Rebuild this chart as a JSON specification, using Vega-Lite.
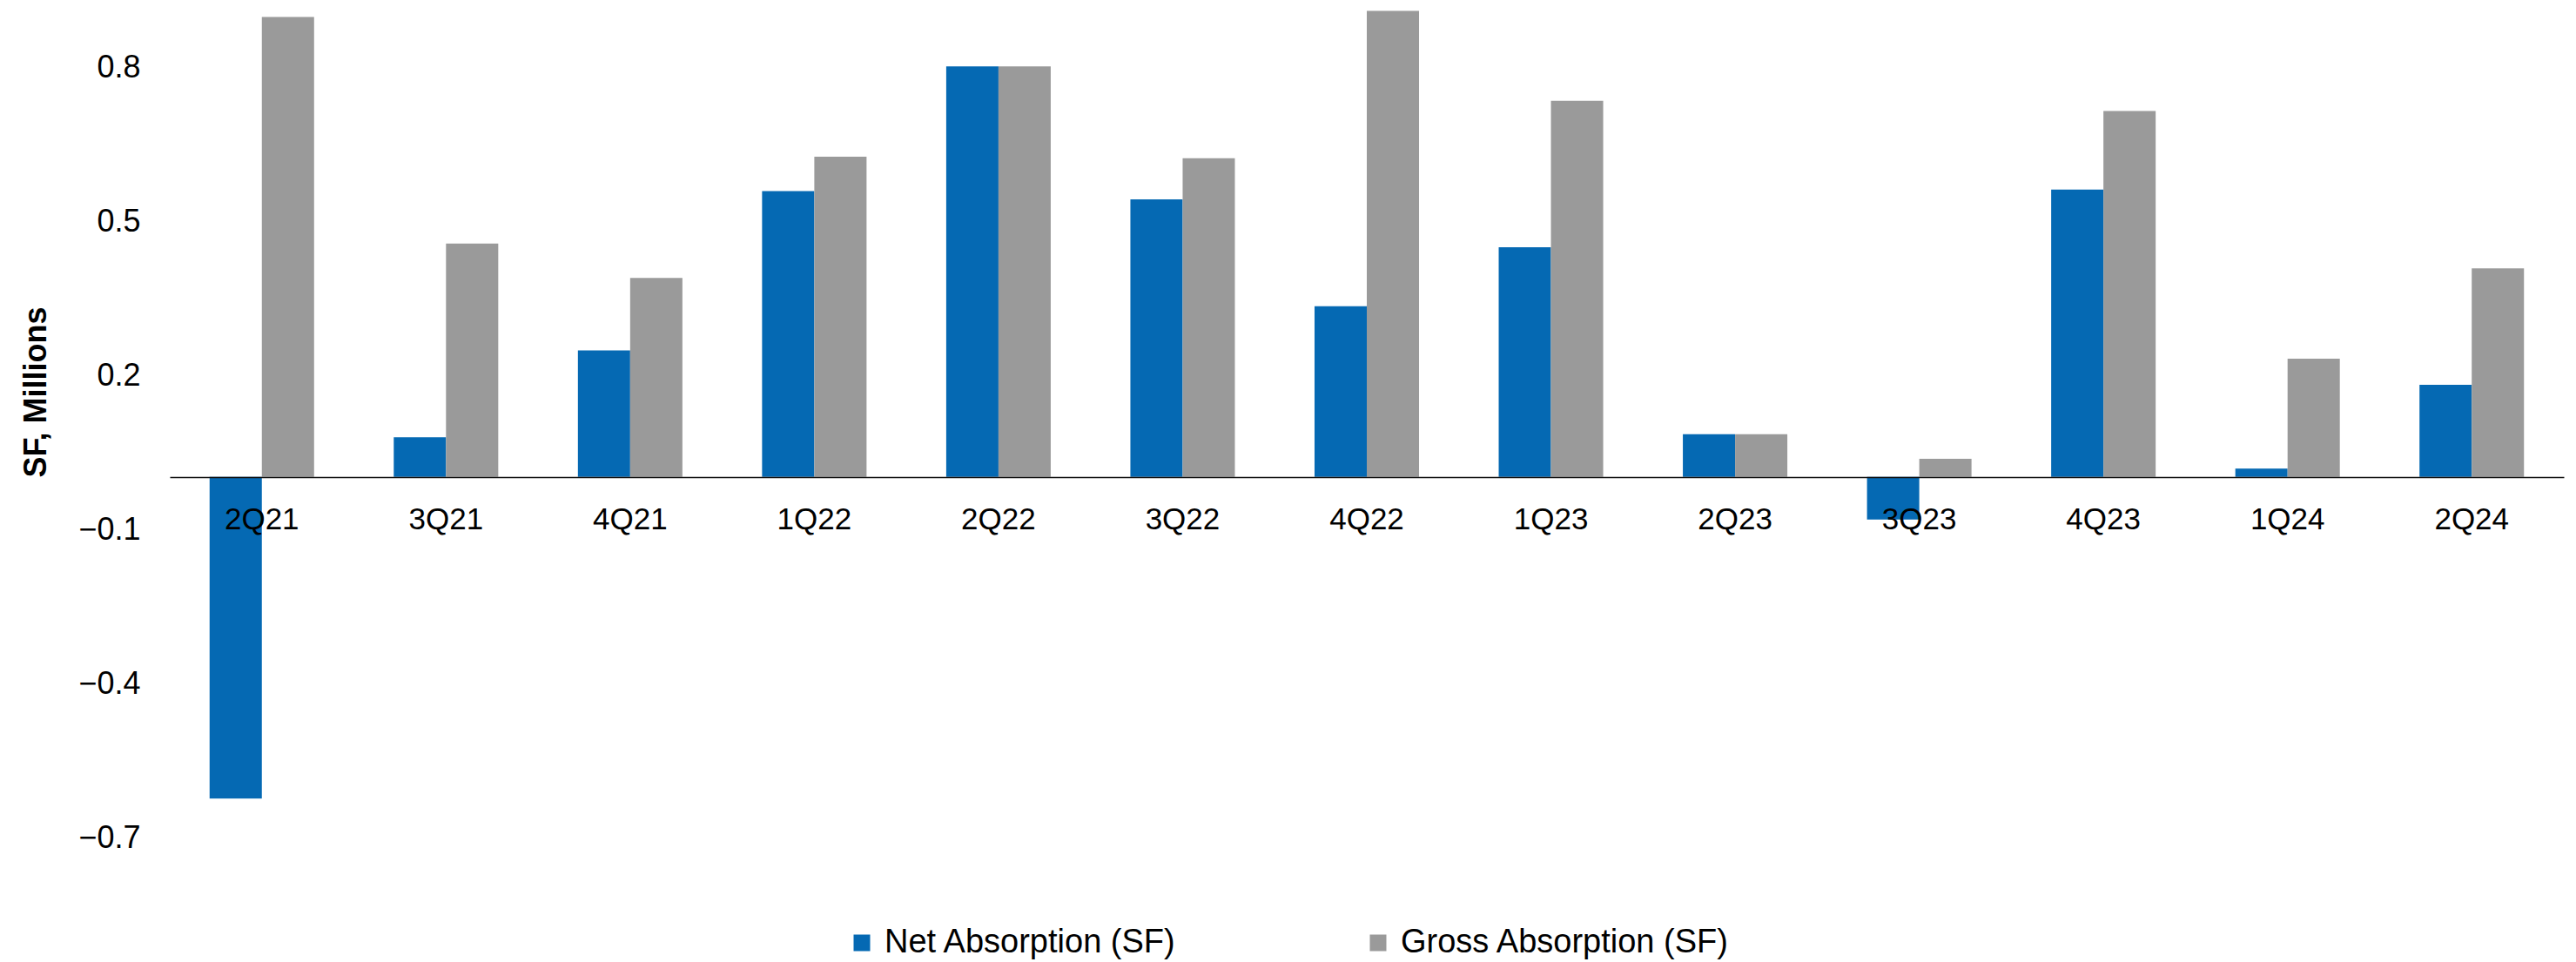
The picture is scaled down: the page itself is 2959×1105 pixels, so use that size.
{
  "$schema": "https://vega.github.io/schema/vega-lite/v6.json",
  "autosize": {"type": "none"},
  "padding": {"left": 195, "top": 0, "right": 14, "bottom": 85},
  "width": 2750,
  "height": 1020,
  "background": "white",
  "config": {"view": {"stroke": null}, "font": "Liberation Sans"},
  "data": {"values": [
    {"q": "2Q21", "s": "Net Absorption (SF)", "v": -0.626},
    {"q": "2Q21", "s": "Gross Absorption (SF)", "v": 0.895},
    {"q": "3Q21", "s": "Net Absorption (SF)", "v": 0.077},
    {"q": "3Q21", "s": "Gross Absorption (SF)", "v": 0.454},
    {"q": "4Q21", "s": "Net Absorption (SF)", "v": 0.246},
    {"q": "4Q21", "s": "Gross Absorption (SF)", "v": 0.387},
    {"q": "1Q22", "s": "Net Absorption (SF)", "v": 0.556},
    {"q": "1Q22", "s": "Gross Absorption (SF)", "v": 0.623},
    {"q": "2Q22", "s": "Net Absorption (SF)", "v": 0.799},
    {"q": "2Q22", "s": "Gross Absorption (SF)", "v": 0.799},
    {"q": "3Q22", "s": "Net Absorption (SF)", "v": 0.540},
    {"q": "3Q22", "s": "Gross Absorption (SF)", "v": 0.620},
    {"q": "4Q22", "s": "Net Absorption (SF)", "v": 0.332},
    {"q": "4Q22", "s": "Gross Absorption (SF)", "v": 0.907},
    {"q": "1Q23", "s": "Net Absorption (SF)", "v": 0.447},
    {"q": "1Q23", "s": "Gross Absorption (SF)", "v": 0.732},
    {"q": "2Q23", "s": "Net Absorption (SF)", "v": 0.083},
    {"q": "2Q23", "s": "Gross Absorption (SF)", "v": 0.083},
    {"q": "3Q23", "s": "Net Absorption (SF)", "v": -0.083},
    {"q": "3Q23", "s": "Gross Absorption (SF)", "v": 0.035},
    {"q": "4Q23", "s": "Net Absorption (SF)", "v": 0.559},
    {"q": "4Q23", "s": "Gross Absorption (SF)", "v": 0.712},
    {"q": "1Q24", "s": "Net Absorption (SF)", "v": 0.016},
    {"q": "1Q24", "s": "Gross Absorption (SF)", "v": 0.230},
    {"q": "2Q24", "s": "Net Absorption (SF)", "v": 0.179},
    {"q": "2Q24", "s": "Gross Absorption (SF)", "v": 0.406}
  ]},
  "mark": {"type": "bar"},
  "encoding": {
    "x": {
      "field": "q", "type": "nominal", "sort": null,
      "scale": {"paddingInner": 0.4326, "paddingOuter": 0.2163},
      "axis": {
        "title": null, "labelAngle": 0, "ticks": false, "offset": -472,
        "domainColor": "#111111", "domainWidth": 1.5,
        "labelFont": "Liberation Sans", "labelFontSize": 35, "labelColor": "#000000",
        "labelPadding": 31, "labelBaseline": "top", "zindex": 1
      }
    },
    "xOffset": {"field": "s", "type": "nominal", "sort": ["Net Absorption (SF)", "Gross Absorption (SF)"]},
    "y": {
      "field": "v", "type": "quantitative",
      "scale": {"domain": [-0.8, 0.928], "nice": false, "zero": false},
      "axis": {
        "title": "SF, Millions", "values": [-0.7, -0.4, -0.1, 0.2, 0.5, 0.8],
        "grid": false, "domain": false, "ticks": false,
        "labelFont": "Liberation Sans", "labelFontSize": 36, "labelColor": "#000000",
        "labelPadding": 34, "labelOffset": 2,
        "titleFont": "Liberation Sans", "titleFontSize": 36, "titleFontWeight": "bold", "titleColor": "#000000",
        "titleAngle": -90, "titleX": -171, "titleY": 450, "titleAlign": "center", "titleBaseline": "top"
      }
    },
    "color": {
      "field": "s", "type": "nominal",
      "scale": {"domain": ["Net Absorption (SF)", "Gross Absorption (SF)"], "range": ["#0569B3", "#9A9A9A"]},
      "legend": {
        "title": null, "orient": "none", "direction": "horizontal",
        "legendX": 776, "legendY": 1064,
        "symbolType": "square", "symbolSize": 361, "symbolStrokeWidth": 0,
        "labelFont": "Liberation Sans", "labelFontSize": 38, "labelColor": "#000000",
        "labelLimit": 0, "labelOffset": 7, "columnPadding": 212, "padding": 0
      }
    }
  }
}
